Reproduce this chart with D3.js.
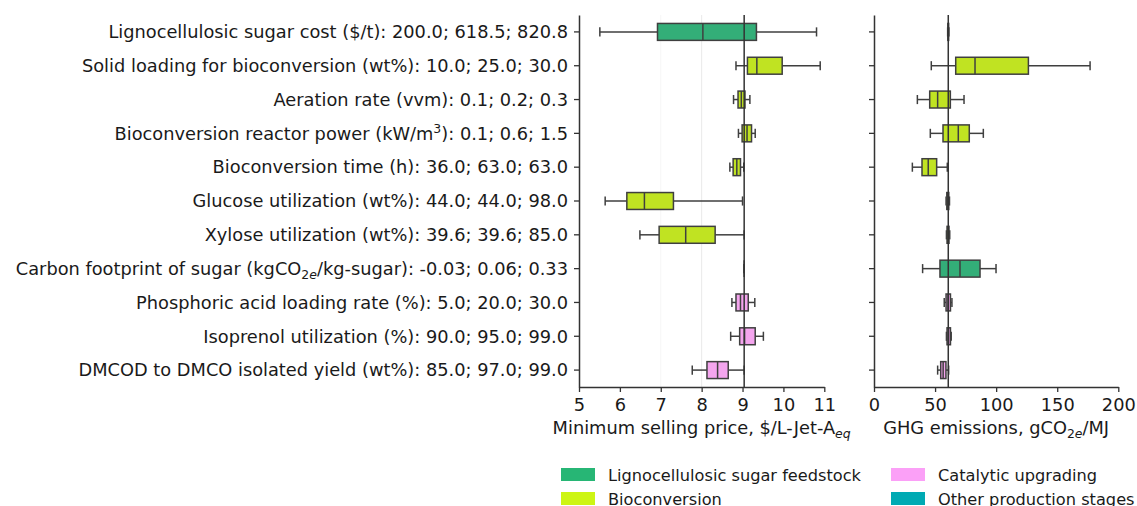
<!DOCTYPE html>
<html><head><meta charset="utf-8">
<script src="https://cdn.jsdelivr.net/npm/d3@7"></script>
<style>body{margin:0;background:#fff}svg{display:block}text{font-family:"DejaVu Sans",sans-serif;fill:#1a1a1a}</style>
</head><body><svg id="c" width="1137" height="506"></svg>
<script>
// ---- data ----
const paramLabels = [
  "Lignocellulosic sugar cost ($/t): 200.0; 618.5; 820.8",
  "Solid loading for bioconversion (wt%): 10.0; 25.0; 30.0",
  "Aeration rate (vvm): 0.1; 0.2; 0.3",
  "Bioconversion reactor power (kW/m^{3}): 0.1; 0.6; 1.5",
  "Bioconversion time (h): 36.0; 63.0; 63.0",
  "Glucose utilization (wt%): 44.0; 44.0; 98.0",
  "Xylose utilization (wt%): 39.6; 39.6; 85.0",
  "Carbon footprint of sugar (kgCO_{2e}/kg-sugar): -0.03; 0.06; 0.33",
  "Phosphoric acid loading rate (%): 5.0; 20.0; 30.0",
  "Isoprenol utilization (%): 90.0; 95.0; 99.0",
  "DMCOD to DMCO isolated yield (wt%): 85.0; 97.0; 99.0"
];
const paramGroup = ["sugar","bio","bio","bio","bio","bio","bio","sugar","cat","cat","cat"];
// [whisker low, Q1, median, Q3, whisker high]
const mspStats = [
  [5.51, 6.92, 8.03, 9.34, 10.81],
  [8.84, 9.12, 9.35, 9.97, 10.90],
  [8.78, 8.89, 8.97, 9.06, 9.18],
  [8.90, 8.99, 9.11, 9.22, 9.31],
  [8.69, 8.77, 8.86, 8.95, 9.03],
  [5.64, 6.17, 6.60, 7.31, 9.00],
  [6.49, 6.96, 7.61, 8.33, 9.04],
  [9.04, 9.04, 9.04, 9.04, 9.04],
  [8.74, 8.84, 8.95, 9.14, 9.30],
  [8.71, 8.93, 9.05, 9.31, 9.51],
  [7.77, 8.13, 8.39, 8.65, 9.04]
];
const ghgStats = [
  [60.3, 60.5, 60.8, 61.1, 61.3],
  [46.9, 66.9, 82.7, 126.4, 176.9],
  [35.5, 45.6, 52.1, 62.5, 73.7],
  [46.1, 56.5, 69.0, 78.0, 89.5],
  [31.4, 39.3, 44.4, 51.3, 60.0],
  [59.0, 59.6, 60.4, 61.2, 61.8],
  [59.3, 59.8, 60.6, 61.4, 62.0],
  [39.8, 54.0, 70.4, 86.8, 99.9],
  [57.5, 59.0, 60.6, 62.6, 63.8],
  [59.3, 59.8, 61.0, 62.6, 63.2],
  [52.1, 54.6, 56.6, 58.9, 61.1]
];
const mspBaseline = 9.04;
const ghgBaseline = 60.8;
const mspTicks = [5,6,7,8,9,10,11];
const ghgTicks = [0,50,100,150,200];
const legendKeys = ["sugar","bio","cat","other"];
const legendLabels = ["Lignocellulosic sugar feedstock","Bioconversion","Catalytic upgrading","Other production stages"];
const boxColors = {sugar:"#33ae78", bio:"#c0e322", cat:"#f4a5ee", other:"#00a9b3"};
const legendColors = {sugar:"#27b675", bio:"#cdf514", cat:"#fba0f7", other:"#00aab3"};

// ---- drawing ----
const svg = d3.select("#c");
const FS = 17.8, LFS = 16.2;
const yTop = 15, yBottom = 387;
const y = d3.scaleBand().domain(d3.range(paramLabels.length)).range([yTop, yBottom]).padding(0);
const xL = d3.scaleLinear().domain([5,11]).range([579,824.3]);
const xR = d3.scaleLinear().domain([0,200]).range([874,1118.3]);

// rich text: _{..} subscript, ^{..} superscript; letters in subscripts italic
function rich(sel, str, fs){
  const re = /(_\{[^}]*\}|\^\{[^}]*\})/g;
  const parts = str.split(re).filter(s=>s.length);
  let pending = 0;
  parts.forEach(p=>{
    if(p.startsWith("_{")||p.startsWith("^{")){
      const sub = p[0]==="_";
      const inner = p.slice(2,-1);
      const shift = sub ? 0.25*fs : -0.38*fs;
      const chunks = inner.match(/[0-9]+|[^0-9]+/g);
      chunks.forEach((ch,i)=>{
        const t = sel.append("tspan").text(ch).attr("font-size", fs*0.7);
        if(i===0) t.attr("dy", shift);
        if(/[a-z]/i.test(ch)) t.attr("font-style","italic");
      });
      pending = -shift;
    } else {
      const t = sel.append("tspan").text(p);
      if(pending){ t.attr("dy", pending); pending = 0; }
    }
  });
}

function panel(x, stats, ticks, baseline, title, showLabels, grid){
  const g = svg.append("g");
  grid.forEach(v=>{
    g.append("line").attr("x1",x(v[0])).attr("x2",x(v[0])).attr("y1",yTop).attr("y2",yBottom)
      .attr("stroke",v[1]).attr("stroke-width",1);
  });
  const bh = y.bandwidth()*0.5, ch = y.bandwidth()*0.27;
  stats.forEach((s,i)=>{
    const cy = y(i)+y.bandwidth()/2;
    const col = boxColors[paramGroup[i]];
    const bg = g.append("g").attr("stroke","#3f3f3f").attr("stroke-width",1.5);
    bg.append("line").attr("x1",x(s[0])).attr("x2",x(s[1])).attr("y1",cy).attr("y2",cy);
    bg.append("line").attr("x1",x(s[3])).attr("x2",x(s[4])).attr("y1",cy).attr("y2",cy);
    bg.append("line").attr("x1",x(s[0])).attr("x2",x(s[0])).attr("y1",cy-ch/2).attr("y2",cy+ch/2);
    bg.append("line").attr("x1",x(s[4])).attr("x2",x(s[4])).attr("y1",cy-ch/2).attr("y2",cy+ch/2);
    bg.append("rect").attr("x",x(s[1])).attr("width",Math.max(0,x(s[3])-x(s[1])))
      .attr("y",cy-bh/2).attr("height",bh).attr("fill",col);
    bg.append("line").attr("x1",x(s[2])).attr("x2",x(s[2])).attr("y1",cy-bh/2).attr("y2",cy+bh/2);
  });
  g.append("line").attr("x1",x(baseline)).attr("x2",x(baseline)).attr("y1",yTop).attr("y2",yBottom)
    .attr("stroke","#333").attr("stroke-width",1.5);
  const ax = g.append("g").attr("transform",`translate(0,${yBottom})`)
    .call(d3.axisBottom(x).tickValues(ticks).tickFormat(d3.format("d")).tickSize(5).tickPadding(6).tickSizeOuter(0));
  ax.selectAll("text").attr("font-size",FS).attr("font-family","DejaVu Sans").attr("fill","#1a1a1a");
  const ay = g.append("g").attr("transform",`translate(${x.range()[0]},0)`)
    .call(d3.axisLeft(y).tickSize(5).tickPadding(6).tickSizeOuter(0));
  ay.selectAll("text").remove();
  [ax,ay].forEach(a=>{a.select(".domain").attr("stroke","#333").attr("stroke-width",1.5);
    a.selectAll(".tick line").attr("stroke","#333").attr("stroke-width",1.3);});
  if(showLabels){
    paramLabels.forEach((lab,i)=>{
      const t = g.append("text").attr("x",x.range()[0]-11).attr("y",y(i)+y.bandwidth()/2)
        .attr("dy","0.35em").attr("text-anchor","end").attr("font-size",FS);
      rich(t, lab, FS);
    });
  }
  const tt = g.append("text").attr("x",(x.range()[0]+x.range()[1])/2).attr("y",434)
    .attr("text-anchor","middle").attr("font-size",FS);
  rich(tt, title, FS);
}

panel(xL, mspStats, mspTicks, mspBaseline, "Minimum selling price, $/L-Jet-A_{eq}", true, [[7,"#f6f6f6"],[8,"#e9e9e9"]]);
panel(xR, ghgStats, ghgTicks, ghgBaseline, "GHG emissions, gCO_{2e}/MJ", false, []);

const lg = svg.append("g");
legendKeys.forEach((k,i)=>{
  const col = Math.floor(i/2), row = i%2;
  const lx = col===0 ? 561 : 891, ly = 468 + row*24;
  lg.append("rect").attr("x",lx).attr("y",ly).attr("width",34).attr("height",13)
    .attr("fill",legendColors[k]);
  lg.append("text").attr("x",lx+47).attr("y",ly+12.5).attr("font-size",LFS).text(legendLabels[i]);
});
</script></body></html>
